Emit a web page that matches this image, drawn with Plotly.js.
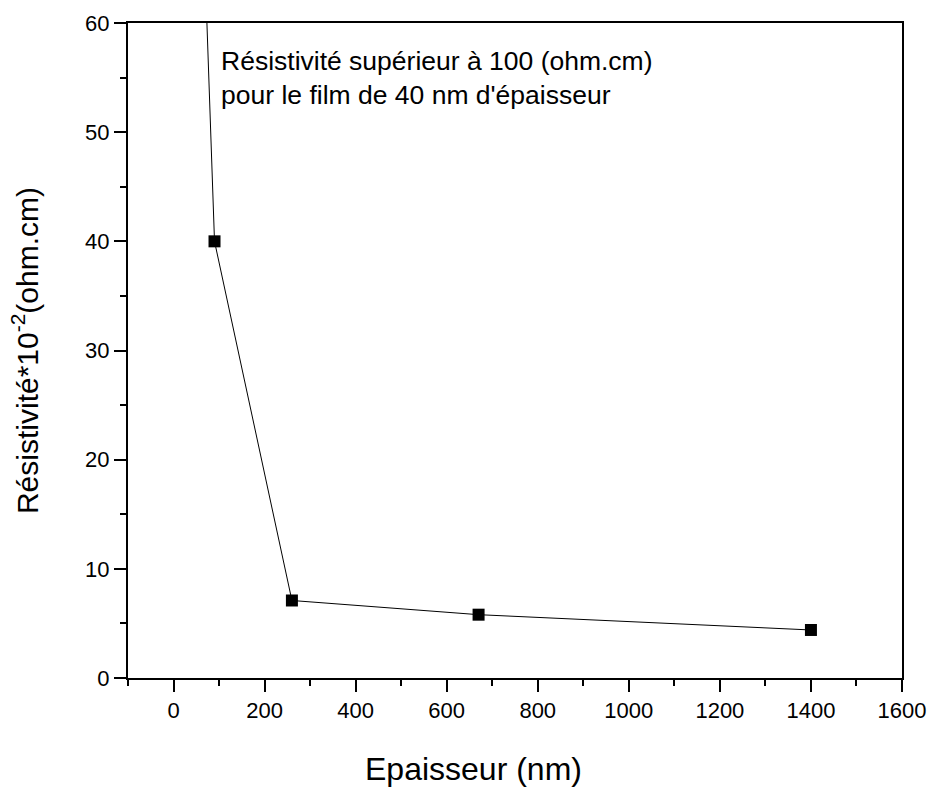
<!DOCTYPE html>
<html>
<head>
<meta charset="utf-8">
<script src="https://cdn.plot.ly/plotly-3.0.1.min.js"></script>
<style>html,body{margin:0;padding:0;background:#fff;}#chart{width:933px;height:791px;}</style>
</head>
<body>
<div id="chart"></div>
<script>
// Data (thickness in nm, resistivity in units of 10^-2 ohm.cm)
const thickness = [40, 90, 260, 670, 1400];
const resistivity = [100, 40, 7.1, 5.8, 4.4];

const xTickVals = [0, 200, 400, 600, 800, 1000, 1200, 1400, 1600];
const yTickVals = [0, 10, 20, 30, 40, 50, 60];

const noteText = "Résistivité supérieur à 100 (ohm.cm)<br>pour le film de 40 nm d'épaisseur";
const xTitle = "Epaisseur (nm)";
const yTitle = "Résistivité*10<sup>-2</sup>(ohm.cm)";

const font = "Liberation Sans, Arial, sans-serif";

const trace = {
  x: thickness,
  y: resistivity,
  mode: "lines+markers",
  type: "scatter",
  line: {color: "#000", width: 1},
  marker: {symbol: "square", size: 12, color: "#000"},
  cliponaxis: true,
  showlegend: false
};

const layout = {
  width: 933,
  height: 791,
  margin: {l: 128, r: 31, t: 23, b: 113},
  paper_bgcolor: "#fff",
  plot_bgcolor: "#fff",
  font: {family: font, color: "#000", size: 22},
  xaxis: {
    range: [-100, 1600],
    tickvals: xTickVals,
    ticks: "outside",
    ticklen: 12,
    tickwidth: 2,
    tickcolor: "#000",
    showline: true,
    linewidth: 2,
    linecolor: "#000",
    mirror: true,
    showgrid: false,
    zeroline: false,
    tickfont: {size: 22},
    minor: {dtick: 100, tick0: 0, ticks: "outside", ticklen: 6, tickwidth: 2, tickcolor: "#000", showgrid: false}
  },
  yaxis: {
    range: [0, 60],
    tickvals: yTickVals,
    ticks: "outside",
    ticklen: 12,
    tickwidth: 2,
    tickcolor: "#000",
    showline: true,
    linewidth: 2,
    linecolor: "#000",
    mirror: true,
    showgrid: false,
    zeroline: false,
    tickfont: {size: 22},
    minor: {dtick: 5, tick0: 0, ticks: "outside", ticklen: 6, tickwidth: 2, tickcolor: "#000", showgrid: false},
    title: {text: yTitle, font: {size: 30}, standoff: 38}
  },
  annotations: [
    {
      text: noteText,
      xref: "paper", yref: "paper",
      x: 0.117, y: 0.968,
      xanchor: "left", yanchor: "top",
      align: "left",
      showarrow: false,
      font: {size: 26.5, family: font, color: "#000"}
    },
    {
      text: xTitle,
      xref: "paper", yref: "paper",
      x: 0.447, y: -0.139,
      xanchor: "center", yanchor: "middle",
      showarrow: false,
      font: {size: 32, family: font, color: "#000"}
    }
  ]
};

Plotly.newPlot("chart", [trace], layout, {displayModeBar: false, staticPlot: true});
</script>
</body>
</html>
